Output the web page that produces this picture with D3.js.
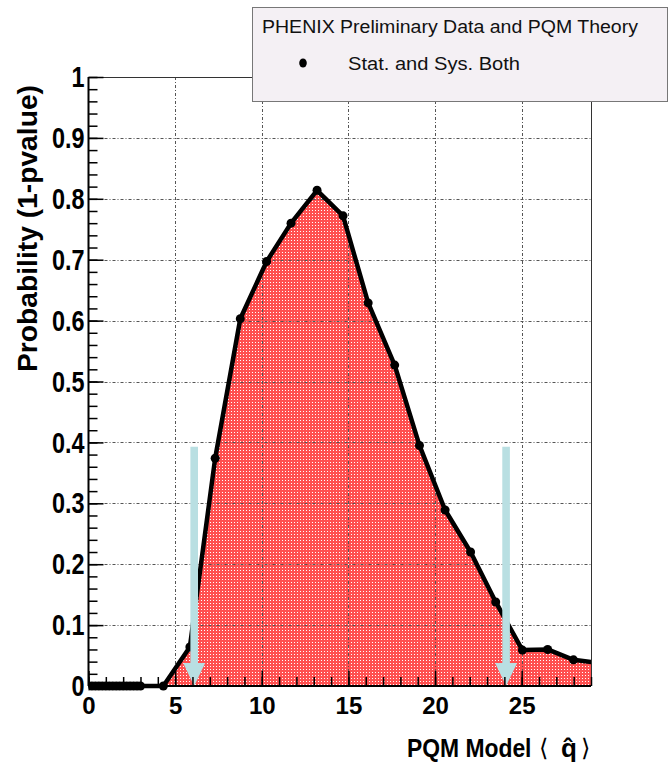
<!DOCTYPE html>
<html>
<head>
<meta charset="utf-8">
<script src="https://cdn.jsdelivr.net/npm/d3@7"></script>
<style>
  body { margin: 0; background: #fff; }
  svg { display: block; }
  text { font-family: "Liberation Sans", Arial, Helvetica, sans-serif; }
</style>
</head>
<body>
<svg id="chart" width="671" height="766"></svg>
<script>
// values
const qhat = [0, 0.2, 0.4, 0.6, 0.8, 1.0, 1.2, 1.4, 1.6, 1.8, 2.0, 2.2, 2.4, 2.6, 2.8, 3.0,
              4.32, 5.85, 7.31, 8.76, 10.28, 11.69, 13.19, 14.69, 16.14, 17.67, 19.1,
              20.58, 22.05, 23.5, 25.04, 26.5, 27.99, 29.4];
const prob = [0, 0, 0, 0, 0, 0, 0, 0, 0, 0, 0, 0, 0, 0, 0, 0,
              0, 0.064, 0.374, 0.603, 0.697, 0.760, 0.814, 0.772, 0.629, 0.527, 0.395,
              0.289, 0.220, 0.138, 0.059, 0.060, 0.043, 0.038];

const arrowX = [6.1, 24.1];
const arrowTop = [0.393, 0.393];

const xMajor = [0, 5, 10, 15, 20, 25];
const xMinor = d3.range(0, 30, 1);
const yMajor = [0, 0.1, 0.2, 0.3, 0.4, 0.5, 0.6, 0.7, 0.8, 0.9, 1];
const yMajorLabels = ["0", "0.1", "0.2", "0.3", "0.4", "0.5", "0.6", "0.7", "0.8", "0.9", "1"];
const yMinor = d3.range(0, 1.001, 0.02);

const legendTitle = "PHENIX Preliminary Data and PQM Theory";
const legendEntry = "Stat. and Sys. Both";

(function() {
    const svg = d3.select("#chart");

    const left = 88.5, right = 591, top = 77, bottom = 686;
    const x = d3.scaleLinear().domain([0, 29]).range([left, right]);
    const y = d3.scaleLinear().domain([0, 1]).range([bottom, top]);

    const defs = svg.append("defs");
    const pat = defs.append("pattern")
        .attr("id", "dots")
        .attr("width", 3).attr("height", 3)
        .attr("patternUnits", "userSpaceOnUse");
    pat.append("rect").attr("width", 3).attr("height", 3).attr("fill", "#ff5050");
    pat.append("rect").attr("width", 1).attr("height", 1).attr("fill", "#ffffff");

    defs.append("clipPath").attr("id", "plot-clip")
        .append("rect")
        .attr("x", left).attr("y", top - 10)
        .attr("width", right - left).attr("height", bottom - top + 20);

    const pts = qhat.map((q, i) => ({ q: q, p: prob[i] }));

    // filled area under the curve
    const area = d3.area().x(d => x(d.q)).y0(y(0)).y1(d => y(d.p));
    svg.append("path")
        .datum(pts)
        .attr("clip-path", "url(#plot-clip)")
        .attr("fill", "url(#dots)")
        .attr("d", area);

    // grid
    const grid = svg.append("g").attr("class", "grid")
        .attr("stroke", "#555").attr("stroke-width", 1)
        .attr("stroke-dasharray", "3,2,1,2");
    grid.selectAll(".gx")
        .data(xMajor.filter(v => v > 0))
        .join("line")
        .attr("x1", d => Math.round(x(d)) + 0.5).attr("x2", d => Math.round(x(d)) + 0.5)
        .attr("y1", top).attr("y2", bottom);
    grid.selectAll(".gy")
        .data(yMajor.filter(v => v > 0 && v < 1))
        .join("line")
        .attr("y1", d => Math.round(y(d)) + 0.5).attr("y2", d => Math.round(y(d)) + 0.5)
        .attr("x1", left).attr("x2", right);

    // frame top / right
    svg.append("path")
        .attr("d", `M${left},${top + 0.5}H${right + 0.5}V${bottom}`)
        .attr("fill", "none").attr("stroke", "#333").attr("stroke-width", 1);

    // curve and markers
    const line = d3.line().x(d => x(d.q)).y(d => y(d.p));
    const gCurve = svg.append("g").attr("clip-path", "url(#plot-clip)");
    gCurve.append("path")
        .datum(pts)
        .attr("fill", "none")
        .attr("stroke", "#000")
        .attr("stroke-width", 4.5)
        .attr("stroke-linejoin", "round")
        .attr("d", line);
    gCurve.selectAll("circle")
        .data(pts)
        .join("circle")
        .attr("cx", d => x(d.q))
        .attr("cy", d => y(d.p))
        .attr("r", 4.5)
        .attr("fill", "#000");

    // arrows
    const gArrows = svg.append("g").attr("fill", "#b9dfe2");
    arrowX.forEach((ax, i) => {
        const cx = x(ax);
        const yt = y(arrowTop[i]);
        const yb = y(0);
        const headH = 23, headW = 11, shaftW = 3.8;
        gArrows.append("path")
            .attr("d", `M${cx - shaftW},${yt}H${cx + shaftW}V${yb - headH}H${cx + headW}L${cx},${yb}L${cx - headW},${yb - headH}H${cx - shaftW}Z`);
    });

    // y axis
    const yAxisMinor = d3.axisLeft(y).tickValues(yMinor).tickSize(-9).tickFormat("");
    const yAxis = d3.axisLeft(y).tickValues(yMajor).tickSize(-15).tickPadding(5)
        .tickFormat((d, i) => yMajorLabels[i]);

    svg.append("g").attr("transform", `translate(${left},0)`).call(yAxisMinor)
        .call(g => g.select(".domain").remove())
        .call(g => g.selectAll("line").attr("stroke-width", 1.5));
    const gy = svg.append("g").attr("transform", `translate(${left},0)`).call(yAxis);
    gy.select(".domain").attr("stroke-width", 2).attr("d", `M0,${bottom}V${top}`);
    gy.selectAll("line").attr("stroke-width", 1.5);
    gy.selectAll("text")
        .attr("font-size", 30).attr("font-weight", "bold")
        .attr("font-family", "'Liberation Sans', Arial, sans-serif")
        .attr("fill", "#000")
        .attr("transform", "scale(0.78,1)");

    // x axis
    const xAxisMinor = d3.axisBottom(x).tickValues(xMinor).tickSize(-9).tickFormat("");
    const xAxis = d3.axisBottom(x).tickValues(xMajor).tickSize(-15).tickPadding(11)
        .tickFormat(d3.format("d"));
    svg.append("g").attr("transform", `translate(0,${bottom})`).call(xAxisMinor)
        .call(g => g.select(".domain").remove())
        .call(g => g.selectAll("line").attr("stroke-width", 1.5));
    const gx = svg.append("g").attr("transform", `translate(0,${bottom})`).call(xAxis);
    gx.select(".domain").attr("stroke-width", 2).attr("d", `M${left},0H${right}`);
    gx.selectAll("line").attr("stroke-width", 1.5);
    gx.selectAll("text")
        .attr("font-size", 24).attr("font-weight", "bold")
        .attr("font-family", "'Liberation Sans', Arial, sans-serif")
        .attr("fill", "#000");

    // axis titles
    svg.append("text")
        .attr("transform", "translate(37,372) rotate(-90)")
        .attr("font-size", 28).attr("font-weight", "bold")
        .attr("textLength", 287).attr("lengthAdjust", "spacingAndGlyphs")
        .text("Probability (1-pvalue)");

    const xTitle = svg.append("g").attr("font-size", 26);
    xTitle.append("text")
        .attr("transform", "translate(407,757) scale(0.88,1)")
        .attr("font-weight", "bold")
        .text("PQM Model");
    xTitle.append("text")
        .attr("x", 539).attr("y", 756)
        .attr("font-family", "'DejaVu Sans', sans-serif")
        .attr("font-size", 24)
        .text("\u27E8");
    xTitle.append("text")
        .attr("x", 561).attr("y", 757)
        .attr("font-weight", "bold")
        .text("q\u0302");
    xTitle.append("text")
        .attr("x", 581).attr("y", 756)
        .attr("font-family", "'DejaVu Sans', sans-serif")
        .attr("font-size", 24)
        .text("\u27E9");

    // legend
    const lg = svg.append("g");
    lg.append("rect")
        .attr("x", 252.5).attr("y", 7.5)
        .attr("width", 415).attr("height", 94)
        .attr("fill", "#f4f0f4").attr("stroke", "#777").attr("stroke-width", 1);
    lg.append("text")
        .attr("x", 262).attr("y", 33)
        .attr("font-size", 17.5)
        .attr("textLength", 376).attr("lengthAdjust", "spacingAndGlyphs")
        .attr("fill", "#111")
        .text(legendTitle);
    lg.append("ellipse").attr("cx", 303).attr("cy", 63).attr("rx", 3.8).attr("ry", 4.6).attr("fill", "#000");
    lg.append("text")
        .attr("x", 348).attr("y", 70)
        .attr("font-size", 17.5)
        .attr("textLength", 172).attr("lengthAdjust", "spacingAndGlyphs")
        .attr("fill", "#111")
        .text(legendEntry);
})();
</script>
</body>
</html>
